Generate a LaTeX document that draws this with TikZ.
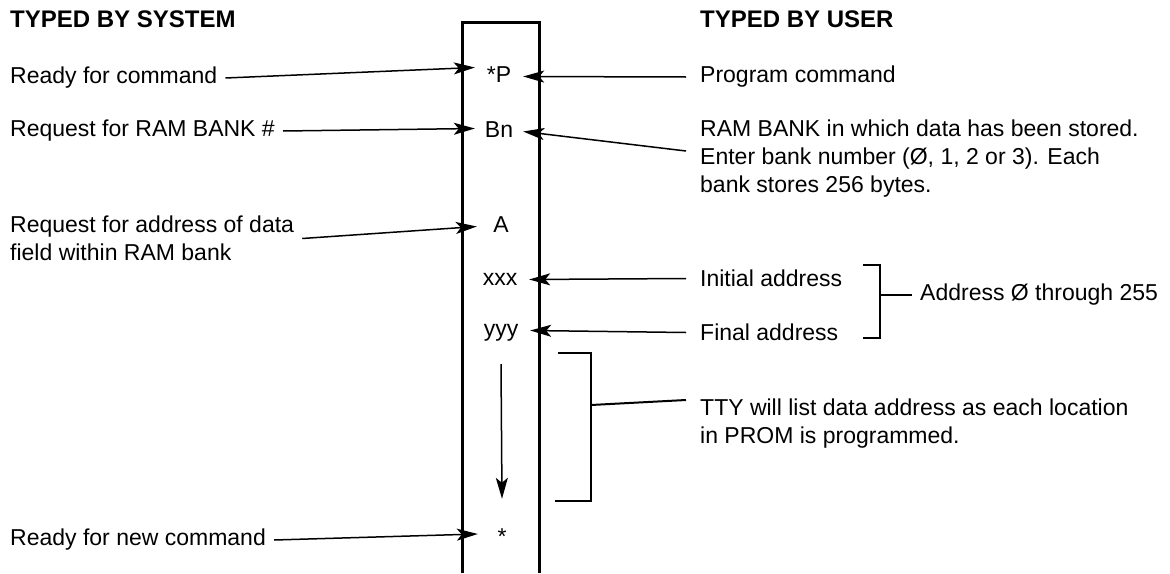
\documentclass[tikz,border=0pt]{standalone}
\usepackage{fontspec}
\setmainfont{Liberation Sans}
\usetikzlibrary{arrows.meta}

\begin{document}
\begin{tikzpicture}[
  x=1pt,y=-1pt,
  every node/.style={font=\fontsize{23}{28}\selectfont},
  lbl/.style={anchor=west,inner xsep=8pt,inner ysep=0pt,align=left},
  rlbl/.style={lbl,inner xsep=14pt},
  head/.style={lbl,font=\fontsize{24}{28}\selectfont\bfseries},
  mid/.style={inner sep=0pt,minimum width=48pt,text height=16pt,text depth=5pt},
  arr/.style={-{Stealth[length=21pt,width=12pt,inset=5pt]},line width=1.5pt},
  brk/.style={line width=2pt}]
\useasboundingbox (0,0) rectangle (1170,573);
\draw[line width=3pt] (462,573) -- (462,22) -- (539,22) -- (539,573);
\node[head] (sys) at (2,19.5) {TYPED BY SYSTEM};
\node[lbl] (rdy) at (2,78) {Ready for command};
\node[lbl] (req) at (2,131) {Request for RAM BANK \#};
\node[lbl] (adr) at (2,238.5) {Request for address of data\\field within RAM bank};
\node[lbl] (rdyn) at (2,540) {Ready for new command};
\node[mid] (P) at (499,76.5) {*P};
\node[mid] (Bn) at (499,131.5) {Bn};
\node[mid] (A) at (501,226.5) {A};
\node[mid,minimum width=58pt] (xxx) at (500,279.5) {xxx};
\node[mid,minimum width=58pt] (yyy) at (501,330.5) {yyy};
\node[mid] (star) at (502,539) {*};
\node[head,inner xsep=14pt] (usr) at (686,19.5) {TYPED BY USER};
\node[rlbl] (prog) at (686,77) {Program command};
\node[rlbl] (ram) at (686,159) {RAM BANK in which data has been stored.\\Enter bank number (Ø, 1, 2 or 3). Each\\bank stores 256 bytes.};
\node[rlbl] (init) at (686,278.5) {Initial address};
\node[rlbl] (fin) at (686,332.5) {Final address};
\node[lbl] (rng) at (912,295) {Address Ø through 255};
\node[rlbl] (tty) at (686,424) {TTY will list data address as each location\\in PROM is programmed.};
\coordinate (b1) at (880,295);
\coordinate (b2) at (591,405);
\draw[arr] (rdy.east) -- ([yshift=9pt]P.west);
\draw[arr] (req.east) -- ([yshift=3pt]Bn.west);
\draw[arr] (adr.east) -- (A.west);
\draw[arr] (rdyn.east) -- ([yshift=5pt]star.west);
\draw[arr] (prog.west) -- (P.east);
\draw[arr] ([yshift=8pt]ram.west) -- (Bn.east);
\draw[arr] (init.west) -- (xxx.east);
\draw[arr] (fin.west) -- (yyy.east);
\draw[arr] ([yshift=-23pt]yyy.south) -- ([yshift=29.5pt]star.north);
\draw[brk] (863,265) -- (880,265) -- (880,338) -- (863,338);
\draw[brk] (b1) -- (rng.west);
\draw[brk] (558,353) -- (591,353) -- (591,501) -- (555,501);
\draw[brk] (b2) -- ([yshift=24pt]tty.west);
\end{tikzpicture}
\end{document}
